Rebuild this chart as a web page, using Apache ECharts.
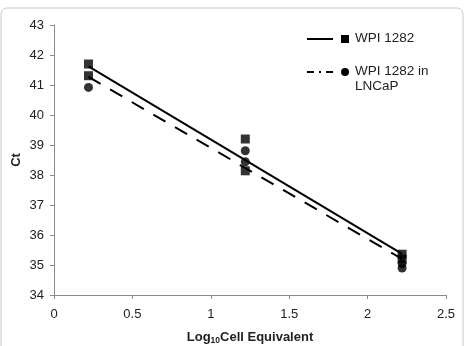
<!DOCTYPE html>
<html>
<head>
<meta charset="utf-8">
<script src="https://cdn.jsdelivr.net/npm/echarts@6/dist/echarts.min.js"></script>
<style>
  html, body { margin: 0; padding: 0; background: #fff; }
  #chart { width: 467px; height: 346px; }
</style>
</head>
<body>
<div id="chart"></div>
<script>
// 数据：WPI 1282（方块）与 WPI 1282 in LNCaP（圆点）
var xTicks = [0, 0.5, 1, 1.5, 2, 2.5];
var yTicks = [34, 35, 36, 37, 38, 39, 40, 41, 42, 43];
var wpiX = [0.22, 0.22, 1.22, 1.22, 2.22, 2.22];
var wpiY = [41.70, 41.31, 39.20, 38.14, 35.36, 35.20];
var lncapX = [0.22, 1.22, 1.22, 2.22, 2.22];
var lncapY = [40.92, 38.81, 38.44, 35.05, 34.90];
// 趋势线两端
var trendX = [0.22, 2.22];
var wpiTrend = [41.62, 35.37];
var lncapTrend = [41.27, 35.20];

function pairs(xs, ys) {
    var out = [];
    for (var i = 0; i < xs.length; i++) {
        out.push([xs[i], ys[i]]);
    }
    return out;
}

var axisGray = '#8c8c8c';
var font = 'Liberation Sans, Arial, sans-serif';

var chart = echarts.init(document.getElementById('chart'));
var option = {
    backgroundColor: '#fff',
    animation: false,
    grid: { left: 54, right: 21, top: 25, bottom: 51, containLabel: false, outerBoundsMode: 'none' },
    xAxis: {
        type: 'value',
        min: xTicks[0],
        max: xTicks[xTicks.length - 1],
        interval: 0.5,
        splitLine: { show: false },
        axisLine: { show: true, lineStyle: { color: axisGray, width: 1 } },
        axisTick: { show: true, inside: false, length: 4, lineStyle: { color: axisGray } },
        axisLabel: { color: '#222', fontSize: 13, fontFamily: font, margin: 13 },
        name: '{a|Log}{s|10}{a|Cell Equivalent}',
        nameLocation: 'middle',
        nameGap: 34,
        nameMoveOverlap: false,
        nameTextStyle: {
            rich: {
                a: { fontSize: 13, fontWeight: 'bold', fontFamily: font, color: '#222' },
                s: { fontSize: 8.5, fontWeight: 'bold', fontFamily: font, color: '#222', padding: [7, 0, 0, 0] }
            }
        }
    },
    yAxis: {
        type: 'value',
        min: yTicks[0],
        max: yTicks[yTicks.length - 1],
        interval: 1,
        splitLine: { show: false },
        axisLine: { show: true, lineStyle: { color: axisGray, width: 1 } },
        axisTick: { show: true, inside: false, length: 4, lineStyle: { color: axisGray } },
        axisLabel: { color: '#222', fontSize: 13, fontFamily: font, margin: 10 },
        name: 'Ct',
        nameLocation: 'middle',
        nameGap: 31,
        nameMoveOverlap: false,
        nameTextStyle: { fontSize: 13, fontWeight: 'bold', fontFamily: font, color: '#222' }
    },
    series: [
        {
            name: 'WPI 1282 trend',
            type: 'line',
            data: pairs(trendX, wpiTrend),
            symbol: 'none',
            lineStyle: { color: '#000', width: 2 },
            z: 2
        },
        {
            name: 'WPI 1282 in LNCaP trend',
            type: 'line',
            data: pairs(trendX, lncapTrend),
            symbol: 'none',
            lineStyle: { color: '#000', width: 2, type: [14, 11] },
            z: 2
        },
        {
            name: 'WPI 1282',
            type: 'scatter',
            data: pairs(wpiX, wpiY),
            symbol: 'rect',
            symbolSize: 9,
            itemStyle: { color: '#000' },
            z: 3
        },
        {
            name: 'WPI 1282 in LNCaP',
            type: 'scatter',
            data: pairs(lncapX, lncapY),
            symbol: 'circle',
            symbolSize: 9,
            itemStyle: { color: '#000' },
            z: 3
        }
    ],
    graphic: [
        // 外框
        {
            type: 'rect',
            shape: { x: 1, y: 8, width: 462, height: 345, r: 6 },
            style: { fill: 'none', stroke: '#c8c8c8', lineWidth: 1 },
            silent: true
        },
        // 图例
        { type: 'line', shape: { x1: 307, y1: 39, x2: 333, y2: 39 }, style: { stroke: '#000', lineWidth: 2 } },
        { type: 'rect', shape: { x: 341, y: 35, width: 8, height: 8 }, style: { fill: '#000' } },
        { type: 'text', left: 355, top: 31, style: { text: 'WPI 1282', fontSize: 13.5, fontFamily: font, fill: '#222' } },
        { type: 'line', shape: { x1: 307, y1: 72, x2: 334, y2: 72 }, style: { stroke: '#000', lineWidth: 2, lineDash: [7, 5, 2, 5] } },
        { type: 'circle', shape: { cx: 345, cy: 72, r: 4 }, style: { fill: '#000' } },
        { type: 'text', left: 355, top: 64, style: { text: 'WPI 1282 in\nLNCaP', fontSize: 13.5, lineHeight: 15, fontFamily: font, fill: '#222' } }
    ]
};
chart.setOption(option);
</script>
</body>
</html>
